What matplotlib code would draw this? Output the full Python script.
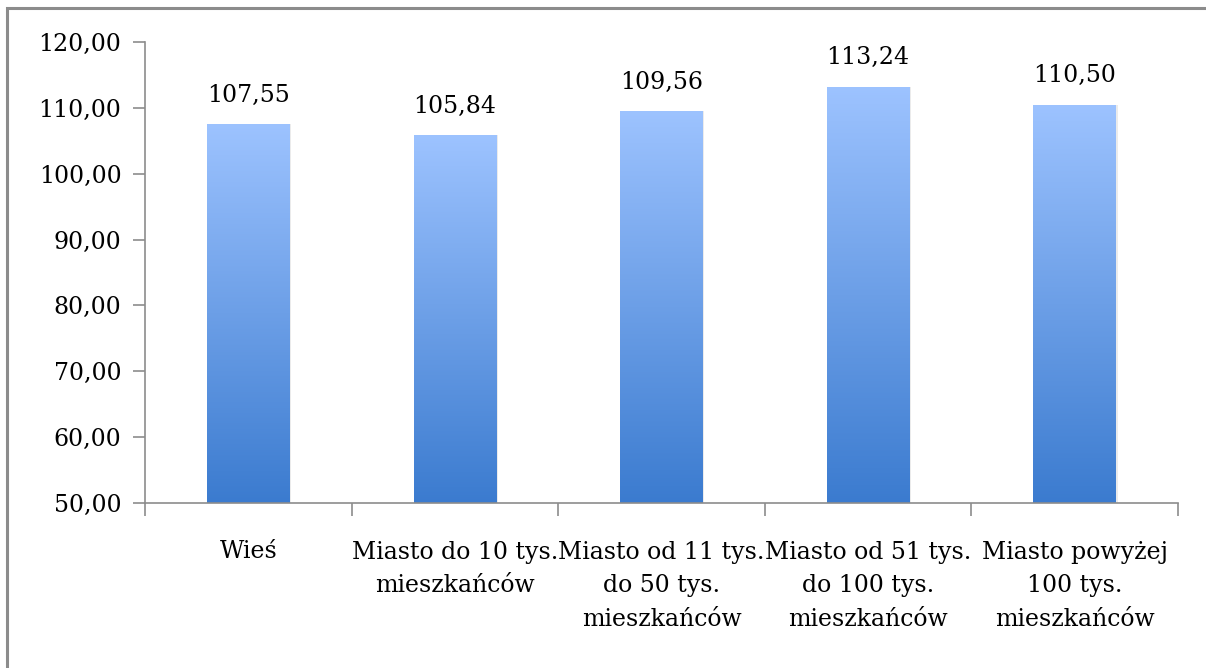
import numpy as np
import matplotlib
matplotlib.use("Agg")
import matplotlib.pyplot as plt
from matplotlib.colors import LinearSegmentedColormap
from matplotlib.patches import Rectangle
from matplotlib.lines import Line2D

categories = [
    "Wieś",
    "Miasto do 10 tys.\nmieszkańców",
    "Miasto od 11 tys.\ndo 50 tys.\nmieszkańców",
    "Miasto od 51 tys.\ndo 100 tys.\nmieszkańców",
    "Miasto powyżej\n100 tys.\nmieszkańców",
]
values = [107.55, 105.84, 109.56, 113.24, 110.50]
y_ticks = [50, 60, 70, 80, 90, 100, 110, 120]

plt.rcParams["font.family"] = ["DejaVu Serif"]

W, H = 1206, 668
fig = plt.figure(figsize=(W / 100, H / 100), dpi=100)
fig.patch.set_facecolor("white")

# outer frame (left and top edges)
fig.add_artist(Line2D([7 / W, 7 / W, 1.0], [0.0, 1 - 8 / H, 1 - 8 / H],
                      transform=fig.transFigure, color="#8c8c8c",
                      linewidth=2.2, solid_joinstyle="miter"))

ax = fig.add_axes([145 / W, 1 - 503 / H, (1178 - 145) / W, (503 - 42) / H])
ax.set_xlim(0, len(categories))
ax.set_ylim(50, 120)

cmap = LinearSegmentedColormap.from_list("bar", ["#3b7bcf", "#9dc3ff"])
grad = np.linspace(0, 1, 256).reshape(-1, 1)
bar_w = 0.4
for i, v in enumerate(values):
    x0 = i + 0.5 - bar_w / 2
    # soft shadow
    sh = Rectangle((x0 + 0.008, 50), bar_w, v - 50, facecolor="#000000",
                   alpha=0.08, edgecolor="none", zorder=1)
    ax.add_patch(sh)
    rect = Rectangle((x0, 50), bar_w, v - 50, facecolor="none",
                     edgecolor="none", zorder=2)
    ax.add_patch(rect)
    im = ax.imshow(grad, cmap=cmap, aspect="auto", origin="lower",
                   extent=(x0, x0 + bar_w, 50, v), zorder=2,
                   interpolation="bicubic")
    im.set_clip_path(rect)
    ax.text(i + 0.5, v + 2.6, f"{v:.2f}".replace(".", ","), ha="center",
            va="bottom", fontsize=17, color="black")

ax.set_xlim(0, len(categories))
ax.set_ylim(50, 120)

for s in ["top", "right"]:
    ax.spines[s].set_visible(False)
for s in ["left", "bottom"]:
    ax.spines[s].set_color("#8c8c8c")
    ax.spines[s].set_linewidth(1.2)

ax.set_yticks(y_ticks)
ax.set_yticklabels([f"{t:.2f}".replace(".", ",") for t in y_ticks], fontsize=17)
ax.set_xticks(range(len(categories) + 1))
ax.set_xticklabels([])
ax.set_xticks([i + 0.5 for i in range(len(categories))], minor=True)
ax.set_xticklabels(categories, minor=True, fontsize=17, linespacing=1.6,
                   va="top")
ax.tick_params(axis="y", length=9, width=1.2, color="#8c8c8c", pad=8)
ax.tick_params(axis="x", which="major", length=9, width=1.2, color="#8c8c8c")
ax.tick_params(axis="x", which="minor", length=0, pad=27)

fig.savefig("out.png", dpi=100, facecolor="white")
